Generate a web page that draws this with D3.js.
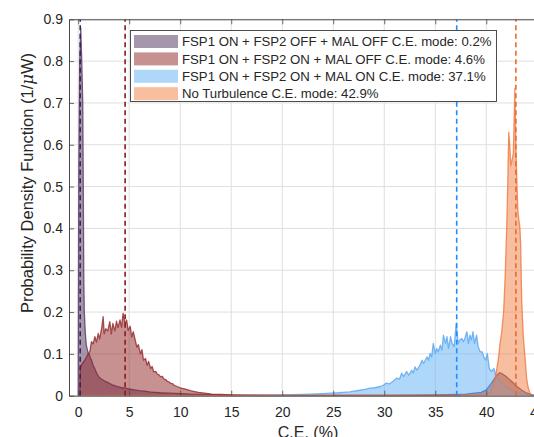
<!DOCTYPE html>
<html><head><meta charset="utf-8">
<script src="https://cdn.jsdelivr.net/npm/d3@7/dist/d3.min.js"></script>
<style>
body{margin:0;background:#fff;}
svg text{font-family:"Liberation Sans",Arial,Helvetica,sans-serif;fill:#262626;}
</style>
</head><body>
<svg id="chart" width="534" height="437"></svg>
<script>
// ---------- data ----------
const xTicks = [0,5,10,15,20,25,30,35,40,45];
const yTicks = [0,0.1,0.2,0.3,0.4,0.5,0.6,0.7,0.8,0.9];
const seriesNames = [
  "FSP1 ON + FSP2 OFF + MAL OFF C.E. mode: 0.2%",
  "FSP1 ON + FSP2 ON + MAL OFF C.E. mode: 4.6%",
  "FSP1 ON + FSP2 ON + MAL ON C.E. mode: 37.1%",
  "No Turbulence C.E. mode: 42.9%"
];
const modeValues = [0.2, 4.6, 37.1, 42.9];

// [C.E. %, PDF]
const pdfOffOff = [[0,0],[0.06,0.55],[0.15,0.8],[0.25,0.88],[0.35,0.8],[0.45,0.7],[0.5,0.5],[0.55,0.28],[0.6,0.2],[0.7,0.15],[0.8,0.12],[0.9,0.11],[1.0,0.1],[1.1,0.098],[1.2,0.09],[1.3,0.085],[1.4,0.078],[1.5,0.07],[1.6,0.066],[1.7,0.06],[1.8,0.055],[1.9,0.05],[2.0,0.046],[2.1,0.043],[2.2,0.041],[2.4,0.038],[2.6,0.035],[2.8,0.033],[3.0,0.03],[3.2,0.028],[3.4,0.025],[3.6,0.024],[3.8,0.022],[4.0,0.021],[4.3,0.019],[4.6,0.018],[5.0,0.016],[5.5,0.014],[6.0,0.012],[6.5,0.011],[7.0,0.009],[7.5,0.008],[8,0.007],[9,0.006],[10,0.005],[11,0.004],[12,0.003],[14,0.002],[17,0.001],[20,0.0005],[25,0.0005],[30,0.001],[35,0.002],[38,0.004],[39.5,0.008],[40,0.014],[40.5,0.03],[41,0.048],[41.3,0.055],[41.6,0.052],[42,0.045],[42.5,0.034],[43,0.022],[43.5,0.013],[44,0.006],[44.5,0.002],[45,0]];

const pdfOnOff = [[0.15,0],[0.2,0.066],[0.35,0.075],[0.5,0.08],[0.65,0.085],[0.82,0.093],[1.0,0.1],[1.15,0.106],[1.3,0.129],[1.47,0.124],[1.64,0.141],[1.8,0.128],[1.96,0.149],[2.1,0.136],[2.3,0.161],[2.45,0.189],[2.55,0.148],[2.7,0.16],[2.9,0.155],[3.1,0.177],[3.25,0.148],[3.4,0.173],[3.6,0.155],[3.75,0.178],[3.9,0.163],[4.1,0.181],[4.25,0.164],[4.4,0.197],[4.6,0.172],[4.75,0.181],[4.9,0.156],[5.1,0.166],[5.25,0.14],[5.4,0.153],[5.6,0.132],[5.75,0.116],[5.9,0.122],[6.1,0.1],[6.25,0.11],[6.4,0.085],[6.6,0.089],[6.75,0.073],[6.9,0.082],[7.1,0.065],[7.25,0.07],[7.4,0.057],[7.6,0.058],[7.75,0.052],[7.9,0.05],[8.1,0.045],[8.25,0.046],[8.4,0.04],[8.6,0.038],[8.75,0.034],[8.9,0.033],[9.1,0.029],[9.25,0.029],[9.4,0.025],[9.7,0.022],[10.0,0.019],[10.3,0.017],[10.6,0.015],[11.0,0.012],[11.4,0.01],[11.8,0.008],[12.4,0.006],[13.1,0.004],[14,0.003],[15,0.002],[17,0.0015],[20,0.001],[25,0.001],[30,0.001],[35,0.001],[37,0.0005],[37.5,0]];

const pdfOnOn = [[15,0],[18,0.001],[20,0.002],[22,0.003],[24,0.005],[24.7,0.006],[25.5,0.007],[26.6,0.009],[27.6,0.013],[28.1,0.015],[28.6,0.018],[29.1,0.019],[29.6,0.022],[29.9,0.025],[30.2,0.03],[30.5,0.028],[30.9,0.035],[31.2,0.042],[31.5,0.04],[31.7,0.054],[31.9,0.046],[32.2,0.058],[32.4,0.049],[32.7,0.061],[32.85,0.054],[33.0,0.069],[33.2,0.061],[33.5,0.073],[33.7,0.085],[33.85,0.077],[34.2,0.093],[34.35,0.085],[34.5,0.101],[34.65,0.093],[34.8,0.125],[35.0,0.101],[35.15,0.113],[35.3,0.105],[35.5,0.121],[35.65,0.109],[35.8,0.145],[36.0,0.125],[36.15,0.141],[36.3,0.113],[36.5,0.141],[36.65,0.125],[36.85,0.117],[37.05,0.173],[37.25,0.125],[37.4,0.133],[37.6,0.137],[37.75,0.129],[37.9,0.137],[38.1,0.153],[38.25,0.125],[38.4,0.145],[38.55,0.133],[38.7,0.153],[38.85,0.125],[39.05,0.145],[39.2,0.117],[39.4,0.105],[39.6,0.105],[39.75,0.093],[39.95,0.085],[40.1,0.101],[40.3,0.065],[40.5,0.058],[40.75,0.065],[40.95,0.046],[41.2,0.04],[41.5,0.03],[42,0.02],[42.5,0.012],[43,0.008],[43.5,0.005],[44,0.003],[44.5,0]];

const pdfNoTurb = [[0,0],[38,0.001],[39,0.002],[40,0.004],[40.4,0.008],[40.85,0.038],[41.0,0.06],[41.2,0.09],[41.35,0.125],[41.5,0.15],[41.7,0.2],[41.85,0.285],[42.0,0.4],[42.1,0.5],[42.2,0.63],[42.3,0.6],[42.4,0.55],[42.5,0.56],[42.65,0.58],[42.8,0.735],[42.9,0.6],[43.0,0.51],[43.1,0.44],[43.2,0.42],[43.3,0.4],[43.37,0.36],[43.47,0.23],[43.63,0.14],[43.8,0.09],[43.96,0.04],[44.1,0.02],[44.3,0.005],[44.5,0]];

const seriesData = [pdfOffOff, pdfOnOff, pdfOnOn, pdfNoTurb];
const baseColors = ["#4d2d5a","#912323","#5fafF5","#f17d41"];
const edgeColors = ["#4b2d5f","#8c1e1e","#50a0f0","#f07038"];
const modeColors = ["#3c2350","#8c1919","#1e8cff","#eb692d"];

// ---------- layout ----------
const svg = d3.select("#chart");
const L = 69, R = 537.3, T = 19.3, B = 395.7;
const x = d3.scaleLinear().domain([-0.9,45]).range([L,R]);
const y = d3.scaleLinear().domain([0,0.9]).range([B,T]);

svg.append("defs").append("clipPath").attr("id","plotClip")
  .append("rect").attr("x",L).attr("y",T).attr("width",R-L).attr("height",B-T);

// grid
const grid = svg.append("g");
grid.selectAll("line.gx").data(xTicks).enter().append("line")
  .attr("x1",d=>x(d)).attr("x2",d=>x(d)).attr("y1",T).attr("y2",B)
  .attr("stroke","#dfdfdf").attr("stroke-width",1);
grid.selectAll("line.gy").data(yTicks).enter().append("line")
  .attr("x1",L).attr("x2",R).attr("y1",d=>y(d)).attr("y2",d=>y(d))
  .attr("stroke","#dfdfdf").attr("stroke-width",1);

// series
const plot = svg.append("g").attr("clip-path","url(#plotClip)");
const area = d3.area().x(d=>x(d[0])).y0(y(0)).y1(d=>y(d[1]));
const line = d3.line().x(d=>x(d[0])).y(d=>y(d[1]));
seriesData.forEach((s,i)=>{
  plot.append("path").attr("d",area(s)).attr("fill",baseColors[i]).attr("fill-opacity",0.5);
  plot.append("path").attr("d",line(s)).attr("fill","none")
    .attr("stroke",edgeColors[i]).attr("stroke-width",1.3).attr("stroke-opacity",0.75)
    .attr("stroke-linejoin","round");
});
// mode lines
modeValues.forEach((m,i)=>{
  plot.append("line").attr("x1",x(m)).attr("x2",x(m)).attr("y1",y(0)).attr("y2",y(0.9))
    .attr("stroke",modeColors[i]).attr("stroke-width",1.6).attr("stroke-dasharray","5,3.5");
});

// axes
const axisColor = "#4a4a4a";
const xAxis = d3.axisBottom(x).tickValues(xTicks).tickSizeInner(-5).tickSizeOuter(0).tickPadding(11);
const gx = svg.append("g").attr("transform",`translate(0,${B})`).call(xAxis);
const xAxisTop = d3.axisTop(x).tickValues(xTicks).tickSizeInner(-5).tickSizeOuter(0).tickFormat("");
const gxt = svg.append("g").attr("transform",`translate(0,${T})`).call(xAxisTop);
const yAxis = d3.axisLeft(y).tickValues(yTicks).tickSizeInner(-5).tickSizeOuter(0).tickPadding(6)
  .tickFormat(d=>d===0?"0":d3.format(".1f")(d));
const gy = svg.append("g").attr("transform",`translate(${L},0)`).call(yAxis);
[gx,gxt,gy].forEach(g=>{
  g.select(".domain").attr("stroke",axisColor).attr("stroke-width",1);
  g.selectAll(".tick line").attr("stroke",axisColor).attr("stroke-width",0.8);
  g.selectAll(".tick text").style("font-size","14px").attr("fill","#262626");
});
gx.selectAll(".tick text").attr("dy","0.71em");

// axis labels
svg.append("text").attr("x",308).attr("y",438).attr("text-anchor","middle")
  .style("font-size","16px").text("C.E. (%)");
const yl = svg.append("text").attr("transform","translate(33,183) rotate(-90)")
  .attr("text-anchor","middle").style("font-size","16.5px");
yl.append("tspan").text("Probability Density Function (1/");
yl.append("tspan").style("font-style","italic").style("font-family","'DejaVu Serif',serif").text("\u03bc");
yl.append("tspan").text("W)");

// legend
const lg = svg.append("g");
lg.append("rect").attr("x",130.5).attr("y",30.5).attr("width",366).attr("height",71)
  .attr("fill","#fff").attr("stroke","#3a3a3a").attr("stroke-width",0.9);
seriesNames.forEach((n,i)=>{
  const cy = 41.5 + i*17.4;
  lg.append("rect").attr("x",134).attr("y",cy-6.5).attr("width",44).attr("height",13)
    .attr("fill",baseColors[i]).attr("fill-opacity",0.5);
  lg.append("text").attr("x",182).attr("y",cy+4.7).style("font-size","13.2px").text(n);
});
</script>
</body></html>
